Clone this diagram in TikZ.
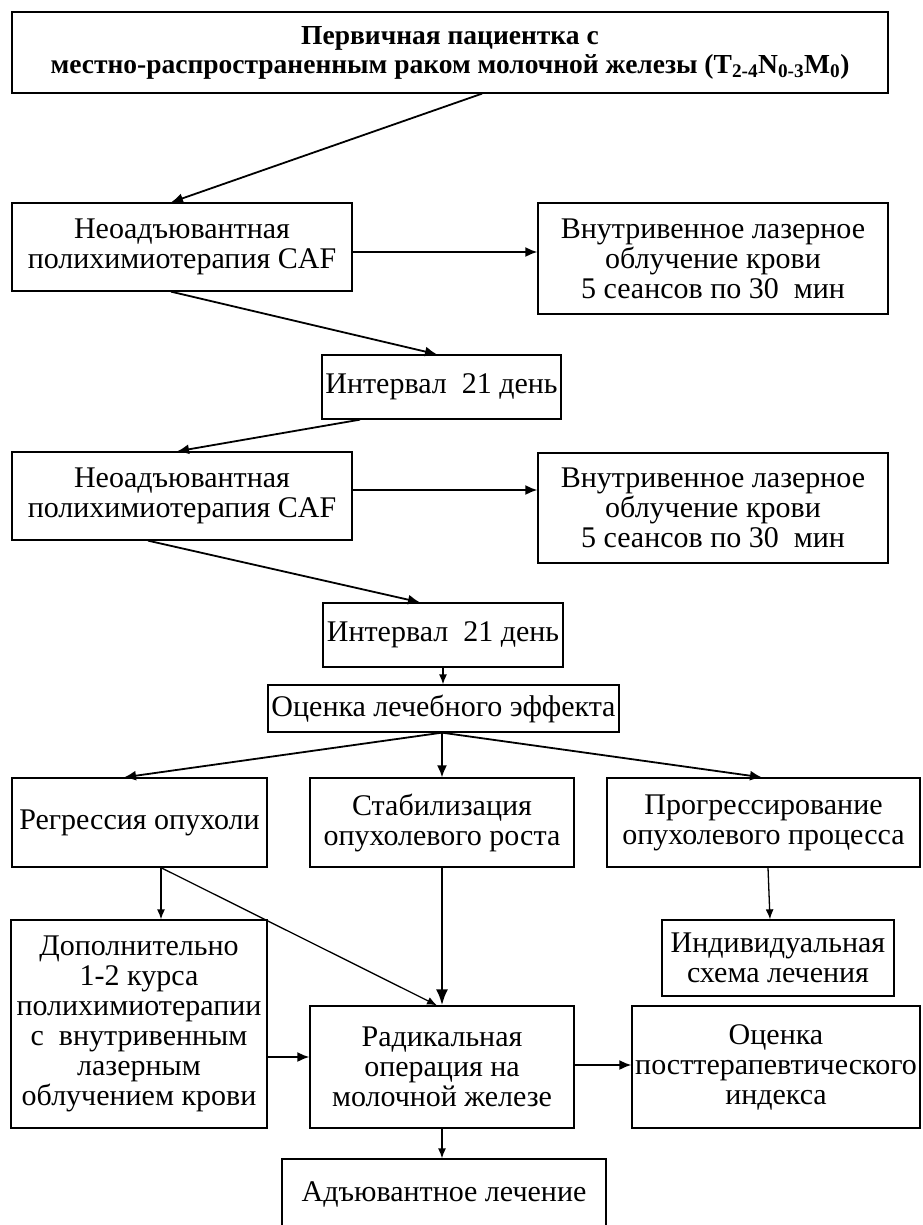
\documentclass[tikz,border=0pt]{standalone}
\usepackage{fontspec}
\setmainfont{Liberation Serif}
\usetikzlibrary{arrows.meta}
\AtBeginDocument{\lineskiplimit=-50pt\relax}
\begin{document}
\begin{tikzpicture}[x=1pt,y=-1pt,
  box/.style={draw, line width=1.3pt, inner sep=0pt, align=center,
    font=\fontsize{30}{30}\selectfont},
  thk/.style={line width=1.8pt, -{Latex[length=12pt,width=10pt]}},
  thn/.style={line width=1.3pt, -{Latex[length=10pt,width=8pt]}}]
\useasboundingbox (0,0) rectangle (922,1225);
% boxes
\node[box, minimum width=876pt, minimum height=81pt, font=\fontsize{27.5}{29}\selectfont\bfseries] (top) at (450,52.5)
  {Первичная пациентка с\\местно-распространенным раком молочной железы (T\textsubscript{2-4}N\textsubscript{0-3}M\textsubscript{0})};
\node[box, minimum width=340pt, minimum height=88pt] (c1) at (182,247) {Неоадъювантная\\полихимиотерапия CAF};
\node[box, minimum width=350pt, minimum height=111pt] (l1) at (713,258.5) {Внутривенное лазерное\\облучение крови\\5 сеансов по 30 \ мин};
\node[box, minimum width=239pt, minimum height=64pt] (i1) at (441.5,387) {Интервал \ 21 день};
\node[box, minimum width=340pt, minimum height=88pt] (c2) at (182,496) {Неоадъювантная\\полихимиотерапия CAF};
\node[box, minimum width=350pt, minimum height=110pt] (l2) at (713,508) {Внутривенное лазерное\\облучение крови\\5 сеансов по 30 \ мин};
\node[box, minimum width=240pt, minimum height=64pt] (i2) at (443,635) {Интервал \ 21 день};
\node[box, minimum width=351pt, minimum height=47pt] (ev) at (443.5,708.5) {Оценка лечебного эффекта};
\node[box, minimum width=255pt, minimum height=89pt] (rg) at (139.5,822.5) {Регрессия опухоли};
\node[box, minimum width=264pt, minimum height=89pt] (st) at (442,822.5) {Стабилизация\\опухолевого роста};
\node[box, minimum width=313pt, minimum height=89pt] (pr) at (763.5,822.5) {Прогрессирование\\опухолевого процесса};
\node[box, minimum width=256pt, minimum height=208pt] (ad) at (139,1024) {Дополнительно\\1-2 курса\\полихимиотерапии\\с \ внутривенным\\лазерным\\облучением крови};
\node[box, minimum width=232pt, minimum height=76pt] (ind) at (778,958) {Индивидуальная\\схема лечения};
\node[box, minimum width=264pt, minimum height=122pt] (rad) at (442,1067) {Радикальная\\операция на\\молочной железе};
\node[box, minimum width=288pt, minimum height=122pt] (ocp) at (776,1067) {Оценка\\посттерапевтического\\индекса};
\node[box, minimum width=324pt, minimum height=71pt] (adj) at (444,1194.5) {Адъювантное лечение};
% connectors
\draw[thk] ([xshift=32pt]top.south) -- ([xshift=-11pt]c1.north);
\path ([yshift=-5pt]c1.east) coordinate (a1);
\draw[thk] (a1) -- (a1 -| l1.west);
\draw[thk] ([xshift=-11pt]c1.south) -- ([xshift=-4.5pt]i1.north);
\draw[thk] ([xshift=-81.5pt]i1.south) -- ([xshift=-5pt]c2.north);
\path ([yshift=6pt]c2.east) coordinate (a2);
\draw[thk] (a2) -- (a2 -| l2.west);
\draw[thk] ([xshift=-34pt]c2.south) -- ([xshift=-23pt]i2.north);
\draw[thn] (i2.south) -- (i2.south |- ev.north);
\draw[thk] ([xshift=-1.5pt]ev.south) -- ([xshift=-15.5pt]rg.north);
\draw[thk] ([xshift=-1.5pt]ev.south) -- (st.north);
\draw[thk] ([xshift=-1.5pt]ev.south) -- ([xshift=-1.5pt]pr.north);
\draw[thn] ([xshift=21.5pt]rg.south) -- ([xshift=22pt]ad.north);
\draw[thn] ([xshift=21.5pt]rg.south) -- ([xshift=-5pt]rad.north);
\draw[line width=2.6pt, -{Latex[length=16pt,width=12pt]}] (st.south) -- (rad.north);
\draw[thn] ([xshift=4.5pt]pr.south) -- ([xshift=-8pt]ind.north);
\path ([yshift=-33pt]ad.east) coordinate (a3);
\draw[thk] (a3) -- (a3 -| rad.west);
\path ([yshift=2pt]rad.east) coordinate (a4);
\draw[thk] (a4) -- (a4 -| ocp.west);
\draw[thn] (rad.south) -- (rad.south |- adj.north);
\end{tikzpicture}
\end{document}
